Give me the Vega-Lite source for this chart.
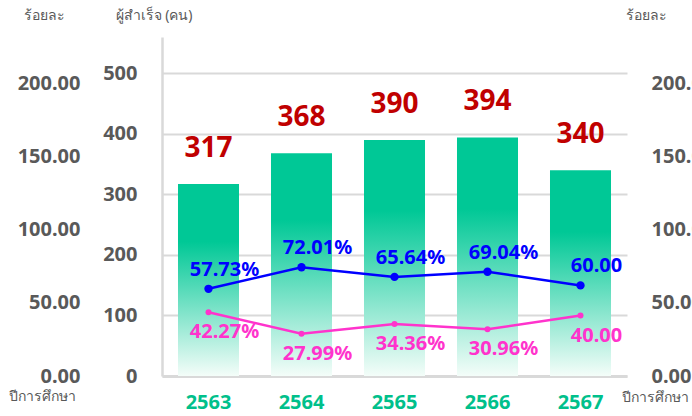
{
  "$schema": "https://vega.github.io/schema/vega-lite/v6.json",
  "width": 465,
  "height": 339,
  "autosize": {"type": "none"},
  "padding": {"left": 162, "top": 37, "right": 65, "bottom": 40},
  "background": "white",
  "config": {
    "font": "Noto Sans",
    "view": {"stroke": null},
    "axis": {"labelFont": "Noto Sans", "titleFont": "Noto Sans", "labelOverlap": false}
  },
  "datasets": {
    "graduates": [
      {"year": "2563", "graduates": 317},
      {"year": "2564", "graduates": 368},
      {"year": "2565", "graduates": 390},
      {"year": "2566", "graduates": 394},
      {"year": "2567", "graduates": 340}
    ],
    "rates": [
      {"year": "2563", "series": "A", "pct": 57.73, "label": "57.73%"},
      {"year": "2564", "series": "A", "pct": 72.01, "label": "72.01%"},
      {"year": "2565", "series": "A", "pct": 65.64, "label": "65.64%"},
      {"year": "2566", "series": "A", "pct": 69.04, "label": "69.04%"},
      {"year": "2567", "series": "A", "pct": 60.0, "label": "60.00"},
      {"year": "2563", "series": "B", "pct": 42.27, "label": "42.27%"},
      {"year": "2564", "series": "B", "pct": 27.99, "label": "27.99%"},
      {"year": "2565", "series": "B", "pct": 34.36, "label": "34.36%"},
      {"year": "2566", "series": "B", "pct": 30.96, "label": "30.96%"},
      {"year": "2567", "series": "B", "pct": 40.0, "label": "40.00"}
    ]
  },
  "resolve": {"scale": {"y": "independent"}, "axis": {"x": "independent"}},
  "layer": [
    {
      "data": {"name": "graduates"},
      "encoding": {
        "x": {
          "field": "year", "type": "ordinal",
          "scale": {"paddingInner": 0.344, "paddingOuter": 0.172},
          "axis": {
            "orient": "bottom",
            "title": "ปีการศึกษา", "titleX": -120, "titleY": 20, "titleAngle": 0,
            "titleAlign": "center", "titleBaseline": "middle", "titleFontSize": 14,
            "titleFontWeight": "normal", "titleColor": "#595959",
            "labelAngle": 0, "labelColor": "#00c08b", "labelFontSize": 20,
            "labelFontWeight": "bold", "labelPadding": 16, "ticks": false,
            "domainColor": "#d9d9d9", "domainWidth": 3
          }
        },
        "y": {
          "field": "graduates", "type": "quantitative",
          "scale": {"domain": [0, 560], "nice": false},
          "axis": {
            "values": [0, 100, 200, 300, 400, 500],
            "title": "ผู้สำเร็จ  (คน)", "titleAngle": 0, "titleX": -47, "titleY": -22,
            "titleAlign": "left", "titleBaseline": "middle", "titleFontSize": 14,
            "titleFontWeight": "normal", "titleColor": "#595959",
            "labelFontSize": 20, "labelFontWeight": "bold", "labelColor": "#595959",
            "labelPadding": 25, "ticks": false,
            "domainColor": "#d9d9d9", "domainWidth": 2.5,
            "grid": true, "gridColor": "#d9d9d9", "gridWidth": 2
          }
        }
      },
      "layer": [
        {
          "mark": {
            "type": "bar",
            "color": {
              "gradient": "linear", "x1": 0, "y1": 0, "x2": 0, "y2": 1,
              "stops": [
                {"offset": 0, "color": "#00c896"},
                {"offset": 0.3, "color": "#00c896"},
                {"offset": 1, "color": "#f4fdf9"}
              ]
            }
          }
        },
        {
          "mark": {"type": "text", "baseline": "alphabetic", "dy": -27, "fontSize": 28, "fontWeight": "bold", "color": "#c00000"},
          "encoding": {"text": {"field": "graduates", "type": "quantitative"}}
        }
      ]
    },
    {
      "data": {"name": "rates"},
      "encoding": {
        "x": {
          "field": "year", "type": "ordinal",
          "axis": {
            "orient": "bottom",
            "title": "ปีการศึกษา", "titleX": 493, "titleY": 21, "titleAngle": 0,
            "titleAlign": "center", "titleBaseline": "middle", "titleFontSize": 14,
            "titleFontWeight": "normal", "titleColor": "#595959",
            "labels": false, "ticks": false, "domain": false, "grid": false
          }
        },
        "y": {
          "field": "pct", "type": "quantitative",
          "scale": {"domain": [0, 224.5], "nice": false},
          "axis": null
        },
        "color": {
          "field": "series", "type": "nominal",
          "scale": {"domain": ["A", "B"], "range": ["#0000ff", "#ff33cc"]},
          "legend": null
        }
      },
      "layer": [
        {"mark": {"type": "line", "strokeWidth": 2.5}},
        {
          "mark": {"type": "point", "filled": true, "opacity": 1},
          "encoding": {"size": {"condition": {"test": "datum.series === 'A'", "value": 70}, "value": 36}}
        },
        {
          "transform": [{"filter": "datum.series === 'A'"}],
          "mark": {"type": "text", "dx": 16, "dy": -19, "fontSize": 20, "fontWeight": "bold", "baseline": "middle"},
          "encoding": {"text": {"field": "label", "type": "nominal"}}
        },
        {
          "transform": [{"filter": "datum.series === 'B'"}],
          "mark": {"type": "text", "dx": 16, "dy": 20, "fontSize": 20, "fontWeight": "bold", "baseline": "middle"},
          "encoding": {"text": {"field": "label", "type": "nominal"}}
        }
      ]
    },
    {
      "data": {"name": "rates"},
      "mark": {"type": "point", "opacity": 0},
      "encoding": {
        "y": {
          "field": "pct", "type": "quantitative",
          "scale": {"domain": [0, 232], "nice": false},
          "axis": {
            "orient": "left", "offset": 78, "values": [0, 50, 100, 150, 200], "format": ".2f",
            "title": "ร้อยละ", "titleAngle": 0, "titleX": -40, "titleY": -22,
            "titleAlign": "center", "titleBaseline": "middle", "titleFontSize": 14,
            "titleFontWeight": "normal", "titleColor": "#595959",
            "labelFontSize": 20, "labelFontWeight": "bold", "labelColor": "#595959",
            "labelPadding": 4, "ticks": false, "domain": false, "grid": false
          }
        }
      }
    },
    {
      "data": {"name": "rates"},
      "mark": {"type": "point", "opacity": 0},
      "encoding": {
        "y": {
          "field": "pct", "type": "quantitative",
          "scale": {"domain": [0, 232], "nice": false},
          "axis": {
            "orient": "right", "offset": 0, "values": [0, 50, 100, 150, 200], "format": ".2f",
            "title": "ร้อยละ", "titleAngle": 0, "titleX": 19, "titleY": -22,
            "titleAlign": "center", "titleBaseline": "middle", "titleFontSize": 14,
            "titleFontWeight": "normal", "titleColor": "#595959",
            "labelFontSize": 20, "labelFontWeight": "bold", "labelColor": "#595959",
            "labelPadding": 24, "ticks": false, "domain": false, "grid": false
          }
        }
      }
    }
  ]
}
